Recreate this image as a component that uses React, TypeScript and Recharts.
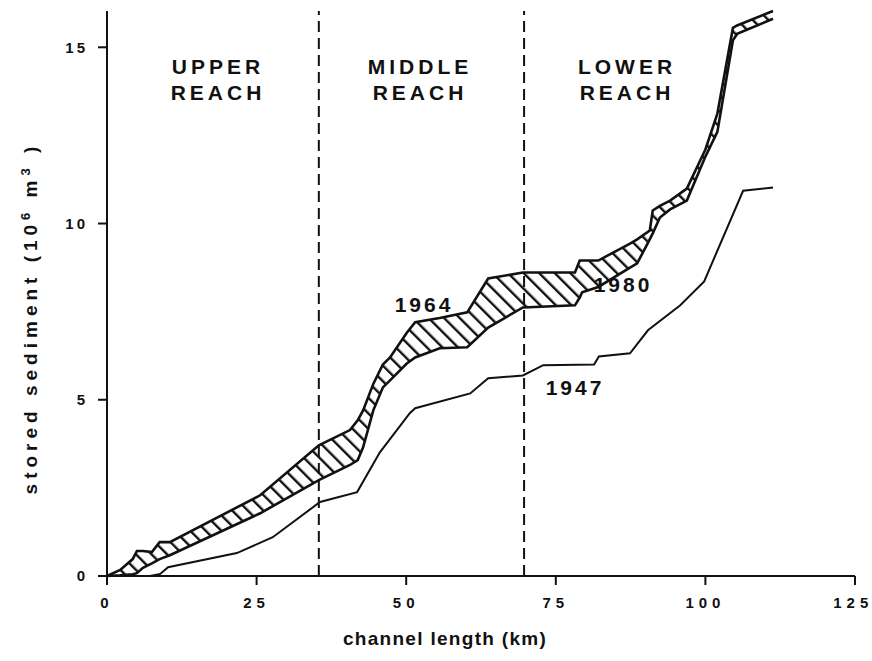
import React from 'react';
import { ComposedChart, Area, Line, XAxis, YAxis, ReferenceLine } from 'recharts';

// axis ticks
const xTicks = [0, 25, 50, 75, 100, 125];
const yTicks = [0, 5, 10, 15];

// hatched band: distance along channel (km) and the two bounding surveys
const bandKm = [0, 2.2, 4.3, 5.0, 6.0, 7.5, 8.8, 10.5, 25.6, 35.4, 40.6, 41.9, 42.8, 44.5, 46.1, 47.3, 50.1, 51.5, 55.6, 60.2, 63.7, 69.5, 78.2, 79.0, 79.4, 82.1, 87.4, 88.6, 90.7, 91.2, 92.4, 94.1, 96.9, 100, 102, 104.6, 105.3, 111.3];
const stored1964 = [0, 0.17, 0.48, 0.71, 0.71, 0.68, 0.96, 0.96, 2.29, 3.71, 4.14, 4.42, 4.7, 5.45, 6.0, 6.2, 6.9, 7.2, 7.32, 7.48, 8.44, 8.61, 8.61, 8.95, 8.95, 8.95, 9.43, 9.55, 9.8, 10.37, 10.5, 10.65, 10.99, 12.1, 13.12, 15.55, 15.62, 16.03];
const stored1980 = [0, 0.02, 0.05, 0.08, 0.23, 0.36, 0.48, 0.59, 1.78, 2.72, 3.15, 3.29, 3.65, 4.7, 5.35, 5.55, 6.03, 6.2, 6.46, 6.49, 7.05, 7.62, 7.68, 7.9, 8.05, 8.2, 8.75, 8.87, 9.55, 9.72, 10.17, 10.4, 10.65, 11.9, 12.6, 15.2, 15.38, 15.81];

// 1947 survey
const km1947 = [0, 7.2, 8.9, 10.2, 21.7, 27.7, 35.6, 41.8, 45.6, 50.6, 51.5, 60.7, 63.7, 69.5, 72.9, 81.4, 82.2, 87.4, 90.4, 95.8, 99.8, 106.3, 111.3];
const stored1947 = [0, 0, 0.06, 0.25, 0.65, 1.1, 2.1, 2.38, 3.51, 4.62, 4.76, 5.18, 5.61, 5.69, 5.98, 6.0, 6.23, 6.32, 6.97, 7.68, 8.36, 10.93, 11.02];

// reach boundaries (km)
const reachBounds = [35.4, 69.7];

const bandData = bandKm.map((km, i) => ({ km, upper: stored1964[i], lower: stored1980[i], range: [stored1980[i], stored1964[i]] }));
const data1947 = km1947.map((km, i) => ({ km, v: stored1947[i] }));

const FONT = '"Liberation Sans", Arial, sans-serif';
const txt = { fontFamily: FONT, fontWeight: 'bold' as const, fill: '#111' };

const App: React.FC = () => {
  return (
    <div style={{ position: 'absolute', left: 0, top: 0, width: 872, height: 661, background: '#fff' }}>
      <svg width={0} height={0} style={{ position: 'absolute' }}>
        <defs>
          <pattern id="hatch" patternUnits="userSpaceOnUse" width={11} height={11} patternTransform="rotate(-45)">
            <rect x={0} y={0} width={2.4} height={11} fill="#111" />
          </pattern>
        </defs>
      </svg>

      <ComposedChart width={872} height={661} margin={{ top: 11, right: 17, bottom: 55, left: 57 }}>
        <XAxis
          dataKey="km"
          type="number"
          domain={[0, 125]}
          ticks={xTicks}
          allowDuplicatedCategory={false}
          height={30}
          axisLine={{ stroke: '#111', strokeWidth: 2 }}
          tickLine={{ stroke: '#111', strokeWidth: 2 }}
          tickSize={9}
          tickMargin={12}
          tick={{ ...txt, fontSize: 15, letterSpacing: 5 }}
        />
        <YAxis
          type="number"
          domain={[0, 16]}
          ticks={yTicks}
          width={50}
          axisLine={{ stroke: '#111', strokeWidth: 2 }}
          tickLine={{ stroke: '#111', strokeWidth: 2 }}
          tickSize={9}
          tickMargin={10}
          tick={{ ...txt, fontSize: 15, letterSpacing: 3 }}
        />

        <Area data={bandData} dataKey="range" type="linear" fill="url(#hatch)" fillOpacity={1} stroke="none" isAnimationActive={false} dot={false} activeDot={false} />
        <Line data={bandData} dataKey="upper" type="linear" stroke="#111" strokeWidth={2.6} dot={false} activeDot={false} isAnimationActive={false} />
        <Line data={bandData} dataKey="lower" type="linear" stroke="#111" strokeWidth={2.6} dot={false} activeDot={false} isAnimationActive={false} />
        <Line data={data1947} dataKey="v" type="linear" stroke="#111" strokeWidth={2} dot={false} activeDot={false} isAnimationActive={false} />

        {reachBounds.map((x) => (
          <ReferenceLine key={x} x={x} stroke="#111" strokeWidth={2} strokeDasharray="11 6" />
        ))}
      </ComposedChart>

      {/* annotations and axis titles */}
      <svg width={872} height={661} style={{ position: 'absolute', left: 0, top: 0, pointerEvents: 'none' }}>
        <g {...txt} fontSize={21} letterSpacing={4} textAnchor="middle">
          <text x={218} y={74}>UPPER</text>
          <text x={218} y={100}>REACH</text>
          <text x={420} y={74}>MIDDLE</text>
          <text x={420} y={100}>REACH</text>
          <text x={627} y={74}>LOWER</text>
          <text x={627} y={100}>REACH</text>
        </g>
        <g {...txt} fontSize={21} letterSpacing={3} textAnchor="middle">
          <text x={424} y={312}>1964</text>
          <text x={623} y={292}>1980</text>
          <text x={575} y={395}>1947</text>
        </g>
        <text {...txt} fontSize={19} letterSpacing={1.3} textAnchor="middle" x={445} y={645}>
          channel length (km)
        </text>
        <text {...txt} fontSize={19} letterSpacing={5} textAnchor="middle" transform="translate(37 318) rotate(-90)">
          stored sediment (10<tspan dy={-7} fontSize={13}>6</tspan>
          <tspan dy={7}> m</tspan>
          <tspan dy={-7} fontSize={13}>3</tspan>
          <tspan dy={7}> )</tspan>
        </text>
      </svg>
    </div>
  );
};

export default App;
